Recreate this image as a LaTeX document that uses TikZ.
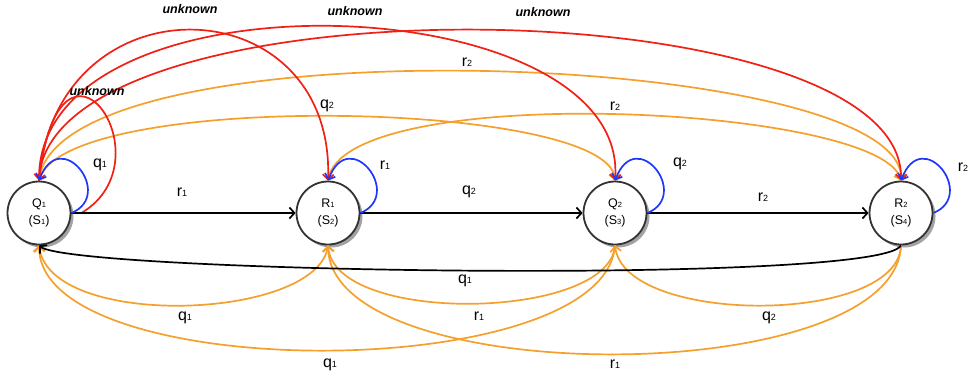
\documentclass[tikz,border=0pt]{standalone}
\usepackage{fontspec}
\setmainfont{Liberation Sans}
\usetikzlibrary{arrows.meta,shadows}
\definecolor{cred}{RGB}{240,32,20}
\definecolor{corange}{RGB}{245,160,45}
\definecolor{cblue}{RGB}{30,55,250}
\newcommand\lbl[2]{#1{\fontsize{9}{9}\selectfont #2}}
\newcommand\nsub[1]{{\fontsize{7.5}{7.5}\selectfont #1}}
\tikzset{
  st/.style={circle, draw=black!80, line width=1.8pt, fill=white, minimum size=63pt,
    inner sep=0pt, align=center, font=\fontsize{12.5}{17}\selectfont,
    drop shadow={shadow xshift=3pt, shadow yshift=-3pt, fill=black!45, opacity=0.8}},
  tr/.style={line width=1.7pt, -{Straight Barb[length=5pt,width=11pt]}},
  blk/.style={tr, draw=black},
  redt/.style={tr, draw=cred},
  orat/.style={tr, draw=corange},
  blut/.style={tr, draw=cblue},
  el/.style={inner sep=0pt, font=\fontsize{16}{16}\selectfont},
  ul/.style={inner sep=0pt, font=\fontsize{12.5}{12.5}\selectfont\bfseries\itshape},
}
\begin{document}
\begin{tikzpicture}[x=1pt,y=-1pt]
\useasboundingbox (0,0) rectangle (968,378);
\node[st] (Q1) at (39,213) {Q\nsub{1}\\(S\nsub{1})};
\node[st] (R1) at (328,213) {R\nsub{1}\\(S\nsub{2})};
\node[st] (Q2) at (615,213) {Q\nsub{2}\\(S\nsub{3})};
\node[st] (R2) at (901,213) {R\nsub{2}\\(S\nsub{4})};

% top orange
\draw[orat] (Q1.north) .. controls +(16,-161) and +(4,-131) .. (R2.north);
\draw[orat] (Q1.north) .. controls +(21,-91) and +(-5,-81) .. (Q2.north);
\draw[orat] (R1.north) .. controls +(12,-101) and +(-21,-76) .. (R2.north);
% top red
\draw[redt] (Q1.north) .. controls +(16,-206) and +(7,-196) .. (R1.north);
\draw[redt] (Q1.north) .. controls +(-4,-216) and +(15,-196) .. (Q2.north);
\draw[redt] (Q1.north) .. controls +(6,-206) and +(4,-196) .. (R2.north);
\draw[redt] ([xshift=10pt]Q1.east) .. controls +(89,-53) and +(21,-181) .. (Q1.north);

% bottom orange
\draw[orat] (R1.south) .. controls +(-8,75) and +(11,85) .. (Q1.south);
\draw[orat] (Q2.south) .. controls +(-10,140) and +(1,140) .. (Q1.south);
\draw[orat] (Q2.south) .. controls +(-5,75) and +(7,80) .. (R1.south);
\draw[orat] (R2.south) .. controls +(-3,80) and +(10,80) .. (Q2.south);
\draw[orat] (R2.south) .. controls +(-6,145) and +(2,145) .. (R1.south);
% bottom black
\draw[blk] (R2.south) .. controls +(-21,40) and +(31,27) .. (Q1.south);

% straight black
\draw[blk] (Q1.east) -- (R1.west);
\draw[blk] (R1.east) -- (Q2.west);
\draw[blk] (Q2.east) -- (R2.west);

% blue loops
\draw[blut] (Q1.east) .. controls +(44,-18) and +(21,-56) .. (Q1.north);
\draw[blut] (R1.east) .. controls +(44,-18) and +(21,-56) .. (R1.north);
\draw[blut] (Q2.east) .. controls +(44,-18) and +(21,-56) .. (Q2.north);
\draw[blut] (R2.east) .. controls +(44,-18) and +(21,-56) .. (R2.north);

% labels
\node[el] (la) at (182,192) {\lbl{r}{1}};
\node[el] (lb) at (469,192) {\lbl{q}{2}};
\node[el] (lc) at (763,197) {\lbl{r}{2}};
\node[el] (ld) at (100,165) {\lbl{q}{1}};
\node[el] (le) at (385,165) {\lbl{r}{1}};
\node[el] (lf) at (680,164) {\lbl{q}{2}};
\node[el] (lg) at (963,167) {\lbl{r}{2}};
\node[ul] (u1) at (190,9) {unknown};
\node[ul] (u2) at (355,11) {unknown};
\node[ul] (u3) at (543,12) {unknown};
\node[ul] (u4) at (97,91) {unknown};
\node[el] (lh) at (467,62) {\lbl{r}{2}};
\node[el] (li) at (615,106) {\lbl{r}{2}};
\node[el] (lj) at (327,106) {\lbl{q}{2}};
\node[el] (lk) at (465,281) {\lbl{q}{1}};
\node[el] (ll) at (185,318) {\lbl{q}{1}};
\node[el] (lm) at (479,316) {\lbl{r}{1}};
\node[el] (ln) at (769,318) {\lbl{q}{2}};
\node[el] (lo) at (330,365) {\lbl{q}{1}};
\node[el] (lp) at (615,364) {\lbl{r}{1}};
\end{tikzpicture}
\end{document}
